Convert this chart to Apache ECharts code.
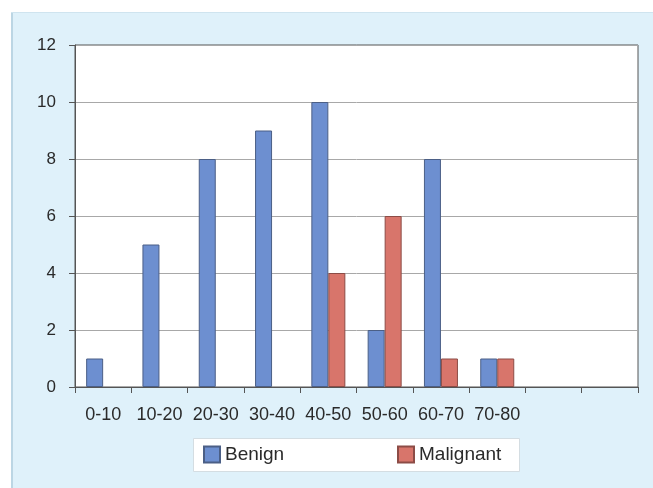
<!DOCTYPE html>
<html>
<head>
<meta charset="utf-8">
<script src="https://cdn.jsdelivr.net/npm/echarts@6/dist/echarts.min.js"></script>
<style>
html,body{margin:0;padding:0;background:#fff;}
#c{width:653px;height:488px;}
</style>
</head>
<body>
<div id="c"></div>
<script>
const categories = ['0-10','10-20','20-30','30-40','40-50','50-60','60-70','70-80','',''];
const benign = [1,5,8,9,10,2,8,1,null,null];
const malignant = [0,0,0,0,4,6,1,1,null,null];
const yTicks = {min:0, max:12, interval:2};

// zero-height bars draw nothing in the reference
const hideZero = arr => arr.map(v => (v === 0 || v === null) ? '-' : v);

const chart = echarts.init(document.getElementById('c'), null, {renderer:'canvas'});
const font = '"Liberation Sans", Arial, sans-serif';
chart.setOption({
  animation:false,
  backgroundColor:'#ffffff',
  graphic:[
    {type:'rect', z:-10, silent:true, shape:{x:11,y:12,width:642,height:476}, style:{fill:'#dff1fa'}},
    {type:'rect', z:-9, silent:true, shape:{x:11,y:12,width:2,height:476}, style:{fill:'#bcd6e4'}},
    {type:'rect', z:-9, silent:true, shape:{x:11,y:12,width:642,height:1}, style:{fill:'#cfe4ef'}},
    {type:'rect', z:0, silent:true, shape:{x:193.5,y:438.5,width:326,height:33}, style:{fill:'#ffffff', stroke:'#d4dde2', lineWidth:1}}
  ],
  grid:{left:75, top:45, right:15, bottom:101, show:true, backgroundColor:'#ffffff', borderColor:'#555', borderWidth:1},
  legend:[
    {data:['Benign'], left:203, top:445, itemWidth:16, itemHeight:16, itemGap:0, padding:0, icon:'rect',
     textStyle:{fontFamily:font, fontSize:19, color:'#2a2a2a'}},
    {data:['Malignant'], left:397, top:445, itemWidth:16, itemHeight:16, itemGap:0, padding:0, icon:'rect',
     textStyle:{fontFamily:font, fontSize:19, color:'#2a2a2a'}}
  ],
  xAxis:{
    type:'category', data:categories,
    axisLine:{lineStyle:{color:'#555', width:1}},
    axisTick:{show:true, length:6, lineStyle:{color:'#555'}},
    axisLabel:{fontFamily:font, fontSize:18, color:'#2a2a2a', margin:19, interval:0}
  },
  yAxis:{
    type:'value', min:yTicks.min, max:yTicks.max, interval:yTicks.interval,
    axisLine:{show:true, lineStyle:{color:'#555', width:1}},
    axisTick:{show:true, length:6, lineStyle:{color:'#555'}},
    axisLabel:{fontFamily:font, fontSize:17, color:'#2a2a2a', margin:19},
    splitLine:{lineStyle:{color:'#a8a8a8', width:1}}
  },
  series:[
    {name:'Benign', type:'bar', data:hideZero(benign), barWidth:17, barGap:'0%',
     itemStyle:{color:'#6d8fd0', borderColor:'#4b5f86', borderWidth:1}},
    {name:'Malignant', type:'bar', data:hideZero(malignant), barWidth:17,
     itemStyle:{color:'#d8756b', borderColor:'#8c4c46', borderWidth:1}}
  ]
});
</script>
</body>
</html>
